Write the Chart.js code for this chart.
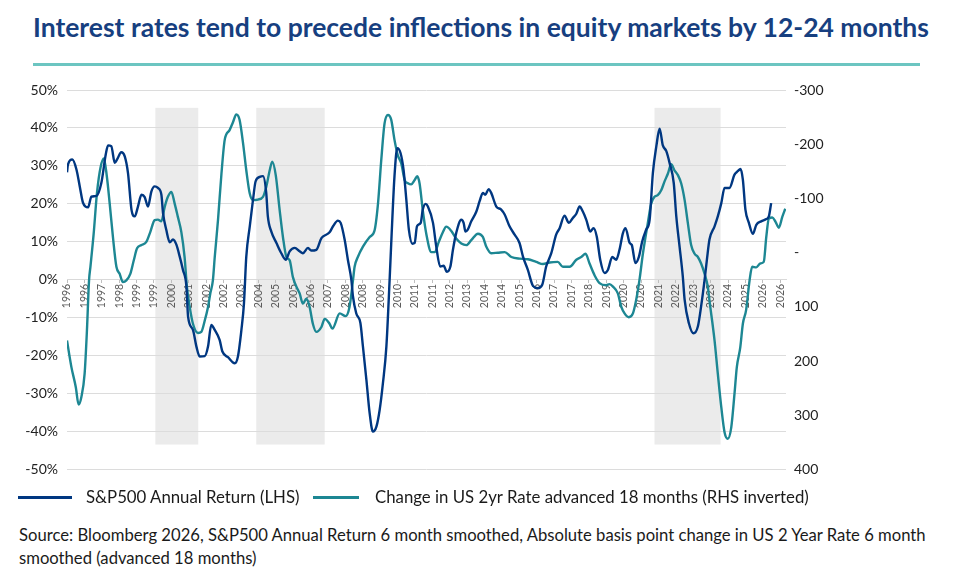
<!DOCTYPE html>
<html>
<head>
<meta charset="utf-8">
<script src="https://cdn.jsdelivr.net/npm/chart.js@4.4.1/dist/chart.umd.min.js"></script>
<style>
  body { margin: 0; width: 959px; height: 572px; background: #fff; position: relative; overflow: hidden; font-family: Lato, "Noto Sans", sans-serif; }
  #title { position: absolute; left: 33px; top: 11px; font-weight: 700; font-size: 26.5px; line-height: 32px; color: #173f80; white-space: nowrap; }
  #rule { position: absolute; left: 33px; top: 63px; width: 887px; height: 3px; background: #6cc5c1; }
  #wrap { position: absolute; left: 0; top: 0; width: 959px; height: 487px; }
  .sw { position: absolute; top: 496px; height: 3px; }
  .leg { position: absolute; top: 486px; font-size: 16.8px; line-height: 22px; color: #1a1a1a; white-space: nowrap; }
  #source { position: absolute; left: 19px; top: 524px; width: 935px; font-size: 16.65px; line-height: 22.5px; color: #1a1a1a; }
</style>
</head>
<body>
<div id="title">Interest rates tend to precede inflections in equity markets by 12-24 months</div>
<div id="rule"></div>
<div id="wrap"><canvas id="grafico"></canvas></div>
<div class="sw" style="left:18px;width:54px;background:#003781"></div>
<div class="leg" style="left:86px">S&amp;P500 Annual Return (LHS)</div>
<div class="sw" style="left:313px;width:46px;background:#1d8793"></div>
<div class="leg" style="left:375px">Change in US 2yr Rate advanced 18 months (RHS inverted)</div>
<div id="source">Source: Bloomberg 2026, S&amp;P500 Annual Return 6 month smoothed, Absolute basis point change in US 2 Year Rate 6 month smoothed (advanced 18 months)</div>
<script>
// Etiquetas del eje X (cada 9 meses desde ene-1996)
const tickLabels = ["1996", "1996", "1997", "1998", "1999", "1999", "2000", "2001", "2002", "2002", "2003",
  "2004", "2005", "2005", "2006", "2007", "2008", "2008", "2009", "2010", "2011", "2011", "2012", "2013",
  "2014", "2014", "2015", "2016", "2017", "2017", "2018", "2019", "2020", "2020", "2021", "2022", "2023",
  "2023", "2024", "2025", "2026", "2026"];
const tickStart = 1996;
const tickStep = 0.75;

// S&P500 retorno anual (%), eje izquierdo
const spxDates = [1996.0, 1996.04, 1996.23, 1996.41, 1996.55, 1996.69, 1996.91, 1997.05, 1997.27, 1997.48,
  1997.67, 1997.77, 1997.91, 1998.06, 1998.16, 1998.34, 1998.49, 1998.63, 1998.78, 1998.92,
  1999.06, 1999.21, 1999.35, 1999.49, 1999.64, 1999.78, 1999.92, 2000.07, 2000.14, 2000.28,
  2000.43, 2000.57, 2000.72, 2000.86, 2001.0, 2001.15, 2001.22, 2001.43, 2001.58, 2001.72,
  2001.94, 2002.08, 2002.22, 2002.37, 2002.58, 2002.70, 2002.94, 2003.23, 2003.37, 2003.52,
  2003.63, 2003.73, 2003.88, 2004.02, 2004.13, 2004.31, 2004.45, 2004.59, 2004.66, 2004.81,
  2005.03, 2005.24, 2005.43, 2005.60, 2005.82, 2006.03, 2006.17, 2006.39, 2006.53, 2006.75,
  2006.97, 2007.18, 2007.32, 2007.47, 2007.68, 2007.80, 2007.97, 2008.11, 2008.26, 2008.33,
  2008.47, 2008.65, 2008.76, 2008.91, 2009.05, 2009.19, 2009.34, 2009.48, 2009.62, 2009.77,
  2009.91, 2009.98, 2010.12, 2010.24, 2010.38, 2010.51, 2010.63, 2010.74, 2010.89, 2010.99,
  2011.09, 2011.25, 2011.34, 2011.46, 2011.56, 2011.78, 2011.92, 2012.09, 2012.24, 2012.38,
  2012.53, 2012.64, 2012.78, 2013.0, 2013.10, 2013.18, 2013.28, 2013.43, 2013.65, 2013.79,
  2013.93, 2014.03, 2014.18, 2014.29, 2014.51, 2014.72, 2014.87, 2015.08, 2015.30, 2015.51,
  2015.66, 2015.87, 2016.09, 2016.30, 2016.49, 2016.66, 2016.88, 2017.09, 2017.24, 2017.45,
  2017.64, 2017.81, 2017.96, 2018.10, 2018.24, 2018.39, 2018.56, 2018.70, 2018.84, 2018.99,
  2019.18, 2019.32, 2019.51, 2019.68, 2019.82, 2019.97, 2020.08, 2020.26, 2020.35, 2020.51,
  2020.66, 2020.80, 2020.97, 2021.12, 2021.26, 2021.41, 2021.55, 2021.69, 2021.84, 2021.98,
  2022.16, 2022.27, 2022.41, 2022.55, 2022.63, 2022.81, 2023.01, 2023.20, 2023.34, 2023.49,
  2023.59, 2023.70, 2023.92, 2024.06, 2024.21, 2024.35, 2024.56, 2024.78, 2024.92, 2025.04,
  2025.14, 2025.25, 2025.40, 2025.57, 2025.72, 2025.93, 2026.15, 2026.26, 2026.36];
const spxValues = [28.3, 30.3, 31.7, 29.0, 24.6, 20.3, 19.1, 21.9, 22.1, 25.5,
  33.0, 35.4, 35.2, 30.8, 31.7, 33.6, 32.5, 28.1, 18.5, 16.7,
  19.3, 22.4, 21.8, 19.3, 23.3, 24.6, 24.2, 22.4, 17.6, 13.2,
  9.9, 10.6, 9.2, 6.1, 2.6, -1.8, -9.7, -13.2, -17.6, -20.2,
  -20.1, -17.6, -11.9, -13.2, -15.8, -18.9, -20.4, -22.0, -20.2, -13.2,
  -6.2, 6.1, 14.1, 21.1, 25.9, 27.1, 27.3, 22.9, 16.7, 12.7,
  9.7, 7.0, 5.3, 7.5, 8.4, 7.5, 7.0, 8.4, 7.7, 7.9,
  11.0, 11.9, 12.5, 14.1, 15.6, 15.0, 10.6, 5.3, 0.0, -4.4,
  -8.8, -11.4, -17.6, -26.4, -35.2, -40.0, -38.7, -34.3, -27.3, -17.6,
  0.0, 9.7, 27.3, 34.7, 33.4, 29.0, 21.1, 13.2, 9.5, 9.7,
  14.1, 15.0, 18.5, 20.0, 19.3, 15.0, 8.8, 3.5, 3.7, 2.1,
  3.5, 7.9, 12.3, 15.8, 15.0, 12.7, 13.2, 15.4, 18.0, 20.7,
  22.9, 22.4, 23.9, 22.9, 19.3, 18.5, 17.2, 14.1, 11.9, 9.7,
  6.1, 2.6, -1.6, -2.2, -1.3, 3.5, 7.0, 11.9, 13.6, 16.9,
  15.0, 16.3, 17.4, 19.3, 18.0, 15.8, 12.7, 13.6, 11.4, 5.3,
  1.8, 2.6, 6.0, 5.3, 7.9, 12.3, 13.6, 9.7, 9.2, 4.4,
  6.1, 10.1, 13.2, 15.8, 28.1, 35.2, 39.8, 35.4, 33.9, 30.8,
  25.5, 16.7, 8.8, 0.9, -5.3, -11.4, -14.1, -12.3, -7.0, 0.0,
  5.3, 10.6, 14.1, 16.7, 20.2, 24.2, 24.2, 27.7, 28.6, 29.2,
  26.4, 18.5, 15.0, 12.1, 14.5, 15.4, 16.0, 16.7, 20.2];

// Cambio en la tasa 2 años EE.UU. (pb), eje derecho invertido
const rateDates = [1996.0, 1996.19, 1996.38, 1996.50, 1996.62, 1996.76, 1996.86, 1996.95, 1997.01, 1997.15,
  1997.29, 1997.45, 1997.59, 1997.72, 1997.84, 1997.98, 1998.13, 1998.27, 1998.41, 1998.56,
  1998.73, 1998.88, 1999.02, 1999.21, 1999.42, 1999.59, 1999.78, 1999.92, 2000.07, 2000.21,
  2000.35, 2000.50, 2000.64, 2000.78, 2000.93, 2001.07, 2001.17, 2001.29, 2001.43, 2001.65,
  2001.79, 2001.94, 2002.08, 2002.18, 2002.29, 2002.37, 2002.51, 2002.66, 2002.80, 2003.01,
  2003.16, 2003.30, 2003.44, 2003.59, 2003.73, 2003.88, 2004.02, 2004.23, 2004.45, 2004.59,
  2004.74, 2004.85, 2005.0, 2005.17, 2005.31, 2005.46, 2005.60, 2005.74, 2005.96, 2006.03,
  2006.17, 2006.32, 2006.46, 2006.60, 2006.75, 2006.97, 2007.11, 2007.32, 2007.44, 2007.76,
  2008.01, 2008.18, 2008.33, 2008.40, 2008.54, 2008.76, 2009.05, 2009.26, 2009.41, 2009.55,
  2009.69, 2009.84, 2009.98, 2010.12, 2010.26, 2010.41, 2010.56, 2010.70, 2010.84, 2010.99,
  2011.10, 2011.20, 2011.34, 2011.49, 2011.71, 2011.85, 2012.03, 2012.21, 2012.35, 2012.57,
  2012.78, 2013.0, 2013.22, 2013.43, 2013.72, 2013.93, 2014.08, 2014.29, 2014.58, 2014.87,
  2015.16, 2015.51, 2015.87, 2016.23, 2016.52, 2016.81, 2017.16, 2017.38, 2017.67, 2017.96,
  2018.17, 2018.36, 2018.53, 2018.75, 2018.96, 2019.25, 2019.39, 2019.53, 2019.75, 2019.90,
  2020.04, 2020.22, 2020.40, 2020.54, 2020.68, 2020.83, 2021.04, 2021.19, 2021.33, 2021.47,
  2021.62, 2021.76, 2021.91, 2022.05, 2022.19, 2022.34, 2022.48, 2022.63, 2022.77, 2022.91,
  2023.06, 2023.20, 2023.34, 2023.49, 2023.63, 2023.70, 2023.92, 2024.06, 2024.21, 2024.35,
  2024.49, 2024.64, 2024.78, 2024.88, 2025.03, 2025.14, 2025.28, 2025.43, 2025.54, 2025.72,
  2025.89, 2026.04, 2026.15, 2026.26, 2026.41, 2026.55, 2026.69, 2026.84, 2026.97];
const rateValues = [162, 211, 248, 280, 266, 223, 143, 51, 26, -35,
  -109, -158, -174, -140, -91, -29, 26, 39, 54, 51,
  39, 14, -8, -14, -20, -38, -60, -61, -58, -84,
  -103, -112, -91, -66, -38, 8, 63, 100, 131, 148,
  146, 125, 100, 75, 51, 8, -60, -146, -208, -226,
  -241, -255, -245, -202, -152, -109, -97, -98, -103, -121,
  -152, -168, -143, -78, -29, 8, 14, 45, 69, 75,
  94, 85, 100, 131, 146, 137, 122, 131, 140, 112,
  117, 100, 51, 26, 8, -11, -29, -41, -91, -171,
  -238, -254, -245, -208, -180, -165, -134, -128, -126, -134,
  -141, -128, -78, -35, -1, -1, -20, -38, -48, -40,
  -26, -17, -14, -23, -35, -29, -11, 1, 0, -1,
  8, 11, 12, 17, 21, 18, 17, 26, 26, 13,
  8, 2, 20, 42, 56, 60, 58, 62, 75, 100,
  112, 119, 112, 87, 51, 2, -54, -91, -103, -106,
  -115, -131, -146, -163, -152, -143, -128, -97, -54, -14,
  2, 8, 20, 39, 63, 88, 162, 223, 285, 331,
  343, 322, 260, 211, 174, 131, 106, 51, 26, 27,
  20, 17, -29, -63, -65, -57, -46, -66, -81];

// Zonas sombreadas (años decimales) y su alto en el eje izquierdo (%)
const shadeStart = [1999.81, 2004.16, 2021.33];
const shadeEnd = [2001.66, 2007.11, 2024.18];
const shadeTop = 45.3;
const shadeBottom = -43.4;

const zonasSombreadas = {
  id: "zonasSombreadas",
  beforeDraw(chart) {
    const { ctx, scales } = chart;
    const x = scales.x;
    const y = scales.y;
    ctx.save();
    ctx.fillStyle = "#ebebeb";
    shadeStart.forEach((inicio, i) => {
      const x0 = x.getPixelForValue(inicio);
      const x1 = x.getPixelForValue(shadeEnd[i]);
      const y0 = y.getPixelForValue(shadeTop);
      const y1 = y.getPixelForValue(shadeBottom);
      ctx.fillRect(x0, y0, x1 - x0, y1 - y0);
    });
    ctx.restore();
  },
};

const ctx = document.getElementById("grafico").getContext("2d");

new Chart(ctx, {
  type: "line",
  data: {
    datasets: [
      {
        label: "S&P500 Annual Return (LHS)",
        data: spxDates.map((d, i) => ({ x: d, y: spxValues[i] })),
        borderColor: "#003781",
        borderWidth: 2.4,
        pointRadius: 0,
        cubicInterpolationMode: "monotone",
        yAxisID: "y",
        order: 1,
      },
      {
        label: "Change in US 2yr Rate advanced 18 months (RHS inverted)",
        data: rateDates.map((d, i) => ({ x: d, y: rateValues[i] })),
        borderColor: "#1d8793",
        borderWidth: 2.4,
        pointRadius: 0,
        cubicInterpolationMode: "monotone",
        yAxisID: "y2",
        order: 2,
      },
    ],
  },
  options: {
    responsive: true,
    maintainAspectRatio: false,
    animation: false,
    layout: { padding: { top: 90, bottom: 4, left: 0, right: 0 } },
    plugins: {
      legend: { display: false },
      tooltip: { enabled: false },
    },
    scales: {
      x: {
        type: "linear",
        min: 1996,
        max: 2027,
        position: { y: 0 },
        afterBuildTicks: (axis) => {
          axis.ticks = tickLabels.map((l, i) => ({ value: tickStart + i * tickStep }));
        },
        grid: { drawOnChartArea: false, drawTicks: true, tickLength: 3, color: "#bfbfbf" },
        border: { display: true, color: "#d9d9d9" },
        ticks: {
          autoSkip: false,
          minRotation: 90,
          maxRotation: 90,
          padding: 1,
          color: "#595959",
          font: { family: "Lato", size: 10.5 },
          callback: (value, index) => tickLabels[index],
        },
      },
      y: {
        position: "left",
        min: -50,
        max: 50,
        afterFit: (scale) => { scale.width = 67; },
        grid: { color: "#dcdcdc", drawTicks: false },
        border: { display: false },
        ticks: {
          stepSize: 10,
          padding: 9,
          color: "#222",
          font: { family: "Lato", size: 14 },
          callback: (value) => value + "%",
        },
      },
      y2: {
        position: "right",
        reverse: true,
        min: -300,
        max: 400,
        afterFit: (scale) => { scale.width = 173; },
        grid: { drawOnChartArea: false, drawTicks: false },
        border: { display: false },
        ticks: {
          stepSize: 100,
          padding: 8,
          color: "#222",
          font: { family: "Lato", size: 14 },
          callback: (value) => (value === 0 ? "-" : value),
        },
      },
    },
  },
  plugins: [zonasSombreadas],
});
</script>
</body>
</html>
